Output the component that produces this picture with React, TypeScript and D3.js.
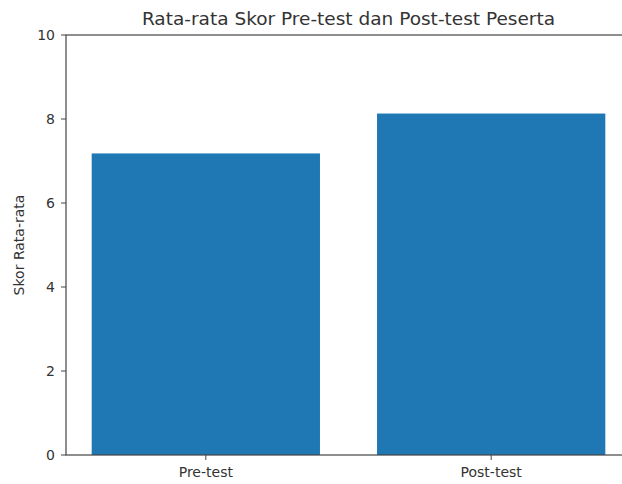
import React, { useEffect, useRef } from "react"
import * as d3 from "d3"

const categories: string[] = ["Pre-test", "Post-test"]
const scores: number[] = [7.18, 8.13]
const yTicks: number[] = [0, 2, 4, 6, 8, 10]

export default function App() {
  const svgRef = useRef<SVGSVGElement>(null)

  useEffect(() => {
    if (!svgRef.current) return
    d3.select(svgRef.current).selectAll("*").remove()

    const W = 622
    const H = 484
    const left = 66
    const right = 631
    const top = 35
    const bottom = 455

    const svg = d3.select(svgRef.current).attr("width", W).attr("height", H)
    svg.append("rect").attr("width", W).attr("height", H).attr("fill", "#fff")

    // matplotlib style: bars at 0..n-1, width 0.8, 5% margins
    const n = categories.length
    const lo = -0.4, hi = n - 1 + 0.4
    const pad = (hi - lo) * 0.05
    const x = d3.scaleLinear().domain([lo - pad, hi + pad]).range([left, right])
    const y = d3.scaleLinear().domain([0, 10]).range([bottom, top])

    const font = "DejaVu Sans, sans-serif"
    const ink = "#333"

    svg
      .selectAll(".bar")
      .data(scores)
      .enter()
      .append("rect")
      .attr("class", "bar")
      .attr("x", (_d, i) => x(i - 0.4))
      .attr("width", x(0.8) - x(0))
      .attr("y", d => y(d))
      .attr("height", d => y(0) - y(d))
      .attr("fill", "#1f77b4")

    // spines
    svg.append("rect")
      .attr("x", left).attr("y", top)
      .attr("width", right - left).attr("height", bottom - top)
      .attr("fill", "none").attr("stroke", "#444").attr("stroke-width", 1.2)

    // y ticks
    const yg = svg.append("g")
    yTicks.forEach(t => {
      yg.append("line").attr("x1", left - 5).attr("x2", left).attr("y1", y(t)).attr("y2", y(t)).attr("stroke", "#444")
      yg.append("text")
        .attr("x", left - 11)
        .attr("y", y(t))
        .attr("dy", "0.35em")
        .attr("text-anchor", "end")
        .attr("font-family", font)
        .attr("font-size", 14)
        .attr("fill", ink)
        .text(t)
    })

    // x ticks
    const xg = svg.append("g")
    categories.forEach((c, i) => {
      xg.append("line").attr("x1", x(i)).attr("x2", x(i)).attr("y1", bottom).attr("y2", bottom + 5).attr("stroke", "#444")
      xg.append("text")
        .attr("x", x(i))
        .attr("y", bottom + 22)
        .attr("text-anchor", "middle")
        .attr("font-family", font)
        .attr("font-size", 14)
        .attr("fill", ink)
        .text(c)
    })

    svg.append("text")
      .attr("transform", `translate(24,${(top + bottom) / 2}) rotate(-90)`)
      .attr("text-anchor", "middle")
      .attr("font-family", font)
      .attr("font-size", 14)
      .attr("fill", ink)
      .text("Skor Rata-rata")

    svg.append("text")
      .attr("x", (left + right) / 2)
      .attr("y", 25)
      .attr("text-anchor", "middle")
      .attr("font-family", font)
      .attr("font-size", 18.5)
      .attr("fill", ink)
      .text("Rata-rata Skor Pre-test dan Post-test Peserta")
  }, [])

  return (
    <div style={{ position: "fixed", top: 0, left: 0, width: 622, height: 484, overflow: "hidden" }}>
      <svg ref={svgRef} style={{ display: "block" }}></svg>
    </div>
  )
}
